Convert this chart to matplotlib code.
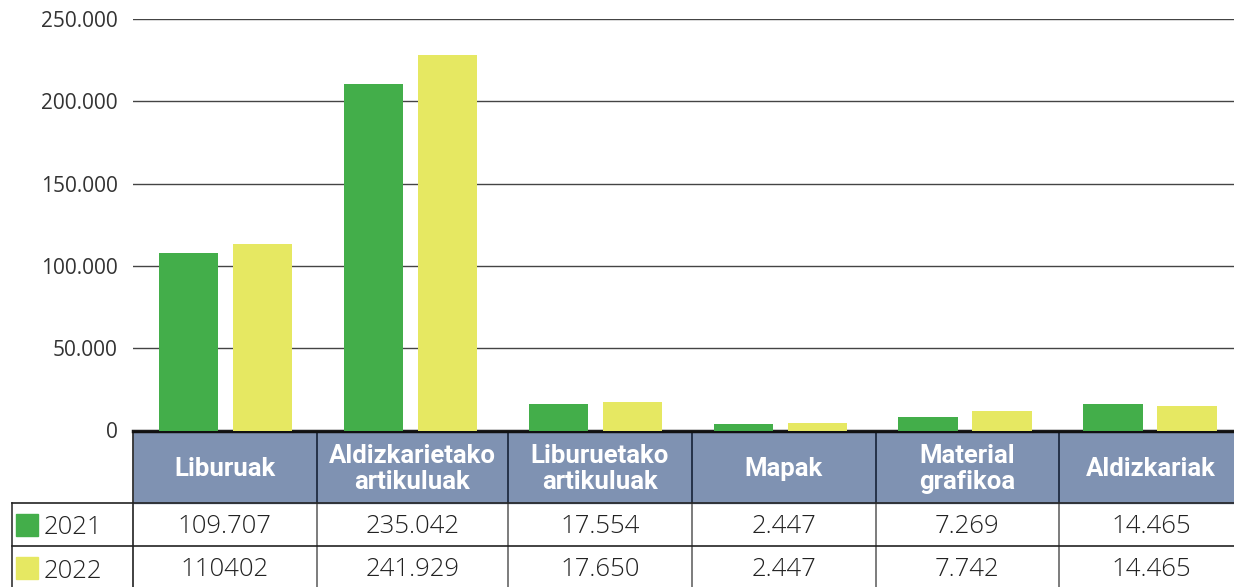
import matplotlib.pyplot as plt
from matplotlib.patches import Rectangle
from matplotlib.ticker import FuncFormatter

# categories and bar heights
categories = ['Liburuak', 'Aldizkarietako\nartikuluak', 'Liburuetako\nartikuluak',
              'Mapak', 'Material\ngrafikoa', 'Aldizkariak']
years = ['2021', '2022']
vals_2021 = [107800, 210500, 16100, 3950, 8200, 16100]
vals_2022 = [113300, 228100, 17300, 4560, 11850, 14900]

# numbers printed in the table under the chart
table_2021 = ['109.707', '235.042', '17.554', '2.447', '7.269', '14.465']
table_2022 = ['110402', '241.929', '17.650', '2.447', '7.742', '14.465']

green = '#43ae4a'
yellow = '#e6e862'
header_col = '#7f92b2'

W, H = 1234, 587
fig = plt.figure(figsize=(W / 100, H / 100), dpi=100)

# table layer in pixel coordinates (y down)
tab = fig.add_axes([0, 0, 1, 1])
tab.set_xlim(0, W)
tab.set_ylim(H, 0)
tab.axis('off')

# bar chart axes
col_w = 184.9
x0 = 133
ax = fig.add_axes([x0 / W, (H - 430.5) / H, (W - x0) / W, (430.5 - 19) / H])
ax.set_xlim(-0.5, -0.5 + (W - x0) / col_w)
ax.set_ylim(0, 250000)
ax.patch.set_alpha(0)

xs = range(len(categories))
bw = 0.32
ax.bar([x - 0.2 for x in xs], vals_2021, width=bw, color=green, zorder=3)
ax.bar([x + 0.2 for x in xs], vals_2022, width=bw, color=yellow, zorder=3)

ax.set_yticks([0, 50000, 100000, 150000, 200000, 250000])
ax.yaxis.set_major_formatter(FuncFormatter(lambda v, p: f'{int(v):,}'.replace(',', '.')))
ax.tick_params(axis='y', length=0, pad=11, labelsize=15, labelcolor='#333333')
ax.tick_params(axis='x', length=0, labelbottom=False)
for lab in ax.get_yticklabels():
    lab.set_fontfamily('Open Sans')
ax.grid(axis='y', color='#444444', linewidth=1, zorder=0)
for s in ax.spines.values():
    s.set_visible(False)

# table
y_top, y_head, y_r1, y_bot = 431, 503, 546, 600
edges = [133, 316.7, 507.7, 691.7, 875.7, 1059, 1250]

tab.add_patch(Rectangle((x0, y_top), W - x0, y_head - y_top, color=header_col, zorder=1))
for i, cat in enumerate(categories):
    cx = (edges[i] + min(edges[i + 1], W)) / 2
    if i == len(categories) - 1:
        cx = 1151
    tab.text(cx, (y_top + y_head) / 2 + 2, cat, ha='center', va='center', color='white',
             fontsize=18.5, fontweight='bold', family='Roboto', linespacing=1.08, zorder=3)
    tab.text(cx, (y_head + y_r1) / 2 + 2, table_2021[i], ha='center', va='center',
             color='#222222', fontsize=18.5, family='Open Sans', fontweight='light', zorder=3)
    tab.text(cx, 570, table_2022[i], ha='center', va='center',
             color='#222222', fontsize=18.5, family='Open Sans', fontweight='light', zorder=3)

# vertical lines
for e in edges[1:-1]:
    tab.plot([e, e], [y_top, y_head], color='#1e2a40', lw=1.3, zorder=2)
    tab.plot([e, e], [y_head, y_bot], color='#666666', lw=1.2, zorder=2)
tab.plot([x0, x0], [y_top, y_bot], color='#333333', lw=1.3, zorder=2)
tab.plot([12, 12], [y_head, y_bot], color='#333333', lw=1.2, zorder=2)
# horizontal lines
tab.plot([x0, W], [y_top, y_top], color='#111111', lw=2.5, zorder=4)
tab.plot([12, W], [y_head, y_head], color='#222222', lw=1.2, zorder=2)
tab.plot([12, W], [y_r1, y_r1], color='#222222', lw=1.2, zorder=2)

# legend swatches in the first column
for yr, col, yc in [(years[0], green, 525), (years[1], yellow, 568)]:
    tab.add_patch(Rectangle((16, yc - 11), 22, 22, color=col, zorder=3))
    tab.text(44, yc + 3, yr, ha='left', va='center', color='#222222',
             fontsize=18.5, family='Open Sans', fontweight='light', zorder=3)

fig.savefig('out.png', dpi=100)
